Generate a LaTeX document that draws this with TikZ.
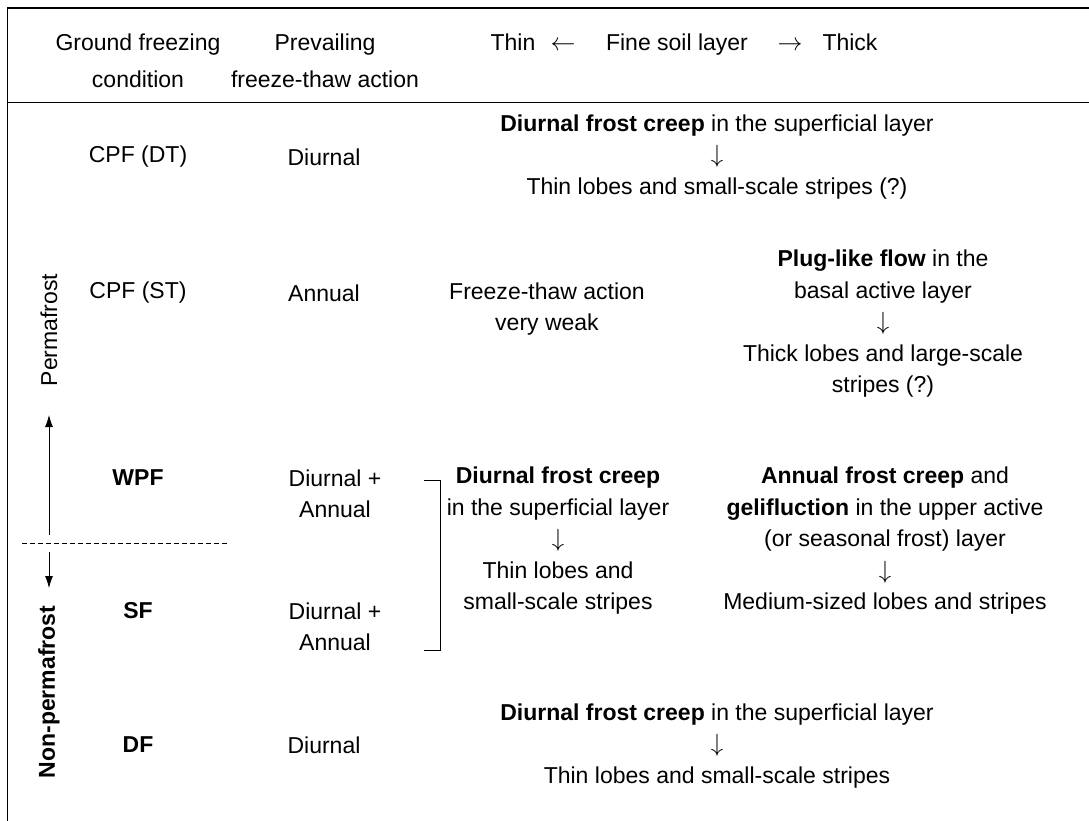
\documentclass[tikz,border=0pt]{standalone}
\usepackage{fontspec}
\setmainfont{Liberation Sans}
\usetikzlibrary{arrows.meta}
\newcommand{\darr}{$\big\downarrow$}
\tikzset{
  txt/.style={inner sep=0pt, align=center, font=\fontsize{23}{31.5}\selectfont},
  hdr/.style={inner sep=0pt, align=center, font=\fontsize{23}{37}\selectfont},
  lbl/.style={txt, font=\fontsize{23}{31.5}\selectfont\bfseries},
  rule/.style={line width=1pt, black},
  arr/.style={line width=0.8pt, -{Latex[length=12pt,width=8pt]}}
}
\begin{document}
\begin{tikzpicture}[x=1pt,y=-1pt]
\useasboundingbox (0,0) rectangle (1089,821);
% frame
\draw[line width=2pt] (7,8) -- (1089,8);
\draw[rule] (7,7) -- (7,821);
\draw[rule] (7,103) -- (1089,103);
% header
\node[hdr] (h1) at (138,61) {Ground freezing\\condition};
\node[hdr] (h2) at (325,61) {Prevailing\\freeze-thaw action};
\node[hdr, anchor=base] (hthin) at (513,51) {Thin};
\node[hdr, anchor=base] (hla) at (563,51) {$\leftarrow$};
\node[hdr, anchor=base] (hfine) at (677,51) {Fine soil layer};
\node[hdr, anchor=base] (hra) at (790,51) {$\rightarrow$};
\node[hdr, anchor=base] (hthick) at (850,51) {Thick};
% column 1
\node[txt] (cpfdt) at (138,157) {CPF (DT)};
\node[txt] (cpfst) at (138,293) {CPF (ST)};
\node[lbl] (wpf) at (138,478) {WPF};
\node[lbl] (sf) at (138,611) {SF};
\node[lbl] (df) at (138,745) {DF};
% column 2
\node[txt] (a1) at (324,157) {Diurnal};
\node[txt] (a2) at (324,293) {Annual};
\node[txt] (a3) at (335,494) {Diurnal +\\Annual};
\node[txt] (a4) at (335,627) {Diurnal +\\Annual};
\node[txt] (a5) at (324,745) {Diurnal};
% right blocks
\node[txt] (r1) at (717,157) {\textbf{Diurnal frost creep} in the superficial layer\\\darr\\Thin lobes and small-scale stripes (?)};
\node[txt] (m2) at (547,309) {Freeze-thaw action\\very weak};
\node[txt] (r2) at (883,324) {\textbf{Plug-like flow} in the\\basal active layer\\\darr\\Thick lobes and large-scale\\stripes (?)};
\node[txt] (m3) at (558,541) {\textbf{Diurnal frost creep}\\in the superficial layer\\\darr\\Thin lobes and\\small-scale stripes};
\node[txt] (r3) at (885,541) {\textbf{Annual frost creep} and\\\textbf{gelifluction} in the upper active\\(or seasonal frost) layer\\\darr\\Medium-sized lobes and stripes};
\node[txt] (r5) at (717,746) {\textbf{Diurnal frost creep} in the superficial layer\\\darr\\Thin lobes and small-scale stripes};
% bracket
\coordinate (bt) at (424,480);
\coordinate (bb) at (424,650);
\draw[line width=0.9pt] (bt) -- ++(16,0) |- (bb);
% side labels
\node[txt, rotate=90] (perm) at (49,330) {Permafrost};
\node[lbl, rotate=90] (nonperm) at (49,692) {Non-permafrost};
\coordinate (upS) at (49,535);
\coordinate (upE) at (49,415);
\coordinate (dnS) at (49,552);
\coordinate (dnE) at (49,588);
\draw[arr] (upS) -- (upE);
\draw[arr] (dnS) -- (dnE);
\coordinate (dl) at (22,543);
\coordinate (dr) at (228,543);
\draw[line width=0.9pt, dash pattern=on 5pt off 3pt] (dl) -- (dr);
\end{tikzpicture}
\end{document}
